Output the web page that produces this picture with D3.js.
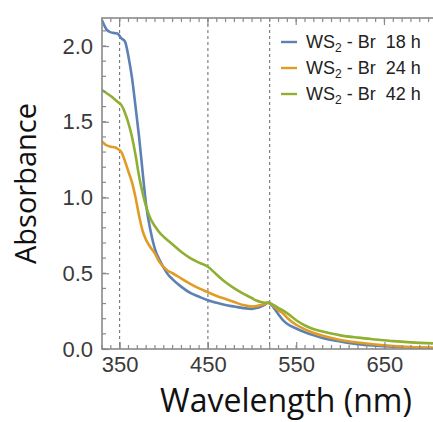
<!DOCTYPE html>
<html>
<head>
<meta charset="utf-8">
<script src="https://cdn.jsdelivr.net/npm/d3@7"></script>
<style>
  body { margin: 0; background: #fff; }
  svg { display: block; }
</style>
</head>
<body>
<div id="chart"></div>
<script>
// wavelengths (nm) shared by all three spectra
const wavelength = [330, 335, 340, 345, 348, 352, 356, 360, 364, 368, 372, 376, 380, 385, 390, 395, 400, 405, 410, 420, 430, 440, 450, 460, 470, 480, 490, 500, 505, 510, 515, 518, 520, 523, 526, 530, 535, 540, 550, 560, 570, 580, 600, 620, 640, 660, 680, 705];

const abs18 = [2.17, 2.11, 2.09, 2.085, 2.08, 2.05, 2.03, 1.93, 1.79, 1.60, 1.40, 1.17, 0.95, 0.78, 0.66, 0.59, 0.535, 0.49, 0.46, 0.41, 0.37, 0.345, 0.322, 0.305, 0.29, 0.28, 0.27, 0.265, 0.27, 0.28, 0.295, 0.305, 0.30, 0.285, 0.26, 0.228, 0.19, 0.165, 0.135, 0.11, 0.09, 0.073, 0.05, 0.032, 0.022, 0.015, 0.01, 0.007];
const abs24 = [1.37, 1.345, 1.335, 1.33, 1.32, 1.30, 1.24, 1.17, 1.10, 1.00, 0.88, 0.78, 0.72, 0.67, 0.63, 0.575, 0.54, 0.515, 0.50, 0.465, 0.43, 0.40, 0.375, 0.35, 0.33, 0.31, 0.29, 0.28, 0.283, 0.29, 0.30, 0.308, 0.305, 0.29, 0.275, 0.255, 0.235, 0.205, 0.16, 0.13, 0.105, 0.087, 0.06, 0.043, 0.03, 0.02, 0.013, 0.008];
const abs42 = [1.71, 1.69, 1.67, 1.645, 1.63, 1.61, 1.56, 1.49, 1.40, 1.28, 1.14, 1.03, 0.94, 0.86, 0.81, 0.77, 0.74, 0.715, 0.69, 0.64, 0.60, 0.57, 0.543, 0.49, 0.44, 0.40, 0.365, 0.335, 0.32, 0.31, 0.305, 0.305, 0.302, 0.295, 0.285, 0.27, 0.255, 0.235, 0.19, 0.155, 0.13, 0.115, 0.09, 0.075, 0.063, 0.052, 0.044, 0.037];

const seriesNames = ["18 h", "24 h", "42 h"];
const seriesColors = ["#5E81B5", "#E19C24", "#8FB032"];
const markers = [350, 450, 520];
const xTicks = [350, 450, 550, 650];
const yTicks = [0, 0.5, 1.0, 1.5, 2.0];

const width = 433, height = 422;
const margin = {top: 18, left: 102, right: 0, bottom: 73};

const svg = d3.select("#chart").append("svg")
    .attr("width", width)
    .attr("height", height);

const xScale = d3.scaleLinear()
    .domain([330, 705])
    .range([margin.left, width - margin.right]);

const yScale = d3.scaleLinear()
    .domain([0, 2.185])
    .range([height - margin.bottom, margin.top]);

svg.append("defs").append("clipPath").attr("id", "clip")
    .append("rect")
    .attr("x", margin.left).attr("y", margin.top)
    .attr("width", width - margin.left - margin.right)
    .attr("height", height - margin.top - margin.bottom);

// dashed marker lines
svg.append("g").selectAll("line")
    .data(markers)
    .enter().append("line")
    .attr("x1", d => xScale(d)).attr("x2", d => xScale(d))
    .attr("y1", margin.top).attr("y2", height - margin.bottom)
    .style("stroke", "#666")
    .style("stroke-width", 1)
    .style("stroke-dasharray", "3,3");

// spectra
const series = [abs18, abs24, abs42];
const line = d3.line()
    .x((d, i) => xScale(wavelength[i]))
    .y(d => yScale(d))
    .curve(d3.curveMonotoneX);

svg.append("g").attr("clip-path", "url(#clip)")
    .selectAll("path")
    .data(series)
    .enter().append("path")
    .attr("d", d => line(d))
    .style("fill", "none")
    .style("stroke", (d, i) => seriesColors[i])
    .style("stroke-width", 2.6)
    .style("stroke-linejoin", "round");

// frame with inward ticks (Mathematica style)
const frameColor = "#8a8a8a";
const x0 = margin.left, x1 = width - margin.right + 1;
const y0 = margin.top, y1 = height - margin.bottom;

const minorX = d3.range(330, 710, 10);
const minorY = d3.range(0, 2.19, 0.1);

const bottomAxis = d3.axisBottom(xScale).tickValues(xTicks).tickSize(-7).tickFormat(d3.format("d")).tickPadding(7);
const leftAxis = d3.axisLeft(yScale).tickValues(yTicks).tickSize(-7).tickFormat(d3.format(".1f")).tickPadding(9);

const gx = svg.append("g").attr("transform", `translate(0,${y1})`).call(bottomAxis);
const gy = svg.append("g").attr("transform", `translate(${x0},0)`).call(leftAxis);
[gx, gy].forEach(g => {
    g.select(".domain").remove();
    g.selectAll(".tick line").style("stroke", frameColor).style("stroke-width", 1.2);
    g.selectAll(".tick text")
        .style("font-family", "'Liberation Sans', Arial, sans-serif")
        .style("font-size", "22px")
        .style("fill", "#3a3a3a");
});

const tickG = svg.append("g").style("stroke", frameColor).style("stroke-width", 1.2);
minorX.forEach(v => {
    tickG.append("line").attr("x1", xScale(v)).attr("x2", xScale(v)).attr("y1", y1).attr("y2", y1 - 4);
    tickG.append("line").attr("x1", xScale(v)).attr("x2", xScale(v)).attr("y1", y0).attr("y2", y0 + 4);
});
xTicks.forEach(v => {
    tickG.append("line").attr("x1", xScale(v)).attr("x2", xScale(v)).attr("y1", y0).attr("y2", y0 + 7);
});
minorY.forEach(v => {
    tickG.append("line").attr("x1", x0).attr("x2", x0 + 4).attr("y1", yScale(v)).attr("y2", yScale(v));
});

svg.append("rect")
    .attr("x", x0).attr("y", y0)
    .attr("width", x1 - x0 + 5).attr("height", y1 - y0)
    .style("fill", "none")
    .style("stroke", frameColor)
    .style("stroke-width", 1.6);

// axis titles
svg.append("text")
    .attr("x", 286)
    .attr("y", 412)
    .attr("text-anchor", "middle")
    .style("font-family", "'Open Sans', 'DejaVu Sans', sans-serif")
    .style("font-size", "32px")
    .style("fill", "#111")
    .text("Wavelength (nm)");

svg.append("text")
    .attr("transform", `translate(36,${(y0 + y1) / 2}) rotate(-90)`)
    .attr("text-anchor", "middle")
    .style("font-family", "'Open Sans', 'DejaVu Sans', sans-serif")
    .style("font-size", "29px")
    .style("fill", "#111")
    .text("Absorbance");

// legend
const legend = svg.append("g").attr("transform", "translate(281,42)");
seriesNames.forEach((name, i) => {
    const row = legend.append("g").attr("transform", `translate(0,${i * 26})`);
    row.append("line")
        .attr("x1", 0).attr("x2", 16).attr("y1", 0).attr("y2", 0)
        .style("stroke", seriesColors[i]).style("stroke-width", 2.4);
    const t = row.append("text")
        .attr("x", 25).attr("y", 6)
        .style("font-family", "'Liberation Sans', Arial, sans-serif")
        .style("font-size", "18px")
        .style("white-space", "pre")
        .style("fill", "#222");
    t.append("tspan").text("WS");
    t.append("tspan").attr("dy", 4).style("font-size", "12px").text("2");
    t.append("tspan").attr("dy", -4).text(" - Br  " + name);
});
</script>
</body>
</html>
